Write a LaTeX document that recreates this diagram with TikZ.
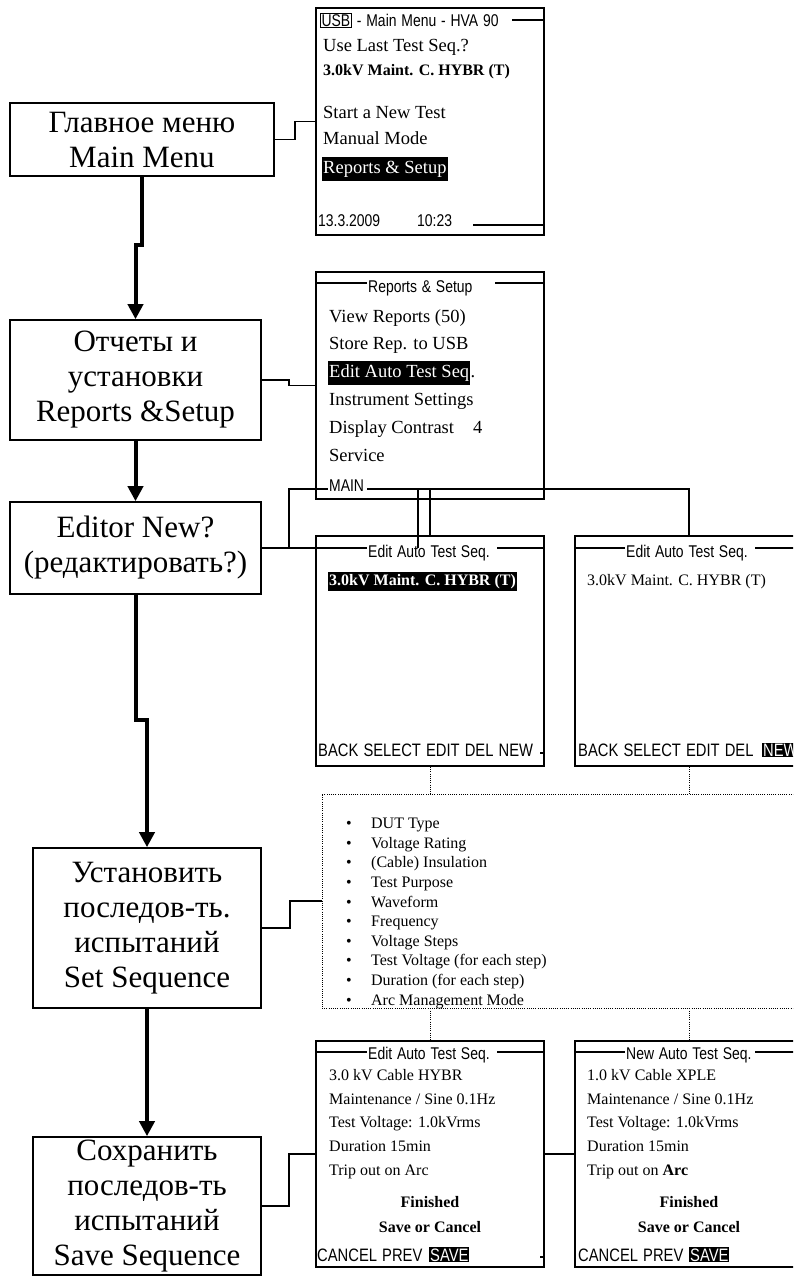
\documentclass[tikz,border=0pt]{standalone}
\usepackage{fontspec}
\setmainfont{Liberation Serif}
\newfontfamily\lcdfont[FakeStretch=0.82,WordSpace=0.7]{Liberation Sans}
\newfontfamily\lcdwide[FakeStretch=0.82,WordSpace=1.25]{Liberation Sans}
\usetikzlibrary{arrows.meta}

\begin{document}
\begin{tikzpicture}[x=1pt,y=-1pt,
  menubox/.style={draw, line width=1.6pt, align=center, inner sep=0pt, font=\fontsize{31}{35}\selectfont},
  screen/.style={draw, line width=1.8pt, inner sep=0pt, minimum width=228pt},
  flow/.style={line width=4pt, -{Triangle[width=15pt,length=15pt]}},
  wire/.style={line width=1.6pt},
  dots/.style={line width=0.8pt, dash pattern=on 1pt off 1.2pt},
  lcd/.style={inner sep=0pt, anchor=base west, font=\lcdfont\fontsize{17}{20}\selectfont},
  softkeys/.style={inner sep=0pt, anchor=base west, font=\lcdwide\fontsize{18}{20}\selectfont},
  menuitem/.style={inner sep=0pt, anchor=base west, font=\fontsize{18.5}{20}\selectfont},
  scrtext/.style={inner sep=0pt, anchor=base west, font=\fontsize{16}{20}\selectfont},
  boldtext/.style={inner sep=0pt, anchor=base, font=\bfseries\fontsize{16}{20}\selectfont},
  hl/.style={fill=black, text=white, inner xsep=1pt}]
\useasboundingbox (0,0) rectangle (793,1277);
\clip (0,0) rectangle (793,1277);

% steps on the left
\node[menubox, minimum width=264pt, minimum height=73pt] (mainmenu) at (142,139.5) {Главное меню\\Main Menu};
\node[menubox, minimum width=251pt, minimum height=120pt] (reports) at (135.5,380) {Отчеты и\\установки\\Reports \&Setup};
\node[menubox, minimum width=251pt, minimum height=92pt] (editor) at (135.5,548) {Editor New?\\(редактировать?)};
\node[menubox, minimum width=228pt, minimum height=160pt] (setseq) at (147,928) {Установить\\последов-ть.\\испытаний\\Set Sequence};
\node[menubox, minimum width=228pt, minimum height=138pt] (saveseq) at (147,1206) {Сохранить\\последов-ть\\испытаний\\Save Sequence};

\draw[flow] (mainmenu.south) -- (142,245) -- (135.5,245) -- (reports.north);
\draw[flow] (reports.south) -- (editor.north);
\draw[flow] (editor.south) -- (135.5,720) -- (147,720) -- (setseq.north);
\draw[flow] (setseq.south) -- (saveseq.north);

% screens
\node[screen, minimum height=227pt] (scrmain) at (430,121.5) {};
\node[screen, minimum height=227pt] (scrrep) at (430,385.5) {};
\node[screen, minimum height=230pt] (scredit) at (430,651) {};
\node[screen, minimum height=230pt] (scrnew) at (689,651) {};
\node[dots, draw, inner sep=0pt, minimum width=481pt, minimum height=214pt] (params) at (562.5,901) {};
\node[screen, minimum height=226pt] (scrsave) at (430,1154) {};
\node[screen, minimum height=226pt] (scrsavenew) at (689,1154) {};

% main menu screen
\node[lcd, draw, line width=1.2pt, inner sep=1pt] (usb) at (320,26) {USB};
\node[lcd] at (usb.base east) {~- Main Menu - HVA 90};
\draw[wire] (512,20) -- (544,20);
\node[menuitem] at (323,51) {Use Last Test Seq.?};
\node[scrtext, font=\bfseries\fontsize{16}{20}\selectfont] at (323,75) {3.0kV Maint. C. HYBR (T)};
\node[menuitem] at (323,118) {Start a New Test};
\node[menuitem] at (323,144) {Manual Mode};
\node[menuitem, hl, text height=13pt, text depth=4.5pt, inner ysep=3pt] at (322,173) {Reports \& Setup};
\node[lcd] at (318,226) {13.3.2009};
\node[lcd] at (417,226) {10:23};
\draw[wire] (473,225) -- (544,225);

% reports & setup screen
\draw[wire] (316,283) -- (367,283);
\node[lcd] at (368,292) {Reports \& Setup};
\draw[wire] (495,283) -- (544,283);
\node[menuitem] at (329,322) {View Reports (50)};
\node[menuitem] at (329,349) {Store Rep. to USB};
\node[menuitem, hl, text height=13pt, text depth=4.5pt, inner ysep=3pt] (editseq) at (328,377) {Edit Auto Test Seq};
\node[menuitem] at (editseq.base east) {.};
\node[menuitem] at (329,405) {Instrument Settings};
\node[menuitem] at (329,433) {Display Contrast};
\node[menuitem] at (473,433) {4};
\node[menuitem] at (329,461) {Service};
\node[lcd] (mainkey) at (329,491) {MAIN};

\draw[wire] (mainmenu.east) -- (295,139.5) |- (scrmain.west);
\draw[wire] (reports.east) -- (289,380) |- (scrrep.west);
\draw[wire] (editor.east) -- (289,548) -- (289,489) -- (328,489);
\draw[wire] (367,489) -- (689,489) -- (scrnew.north);
\draw[wire] (editor.east) -- (367,548);
\draw[wire] (418,548) -- (418,489);
\draw[wire] (430,489) -- (scredit.north);

% edit screens
\node[lcd] at (368,557) {Edit Auto Test Seq.};
\draw[wire] (497,548) -- (544,548);
\node[scrtext, hl, font=\bfseries\fontsize{16}{20}\selectfont, text height=11.5pt, text depth=3.5pt, inner ysep=2pt] at (328,585) {3.0kV Maint. C. HYBR (T)};
\node[softkeys] at (318,756) {BACK SELECT EDIT DEL NEW};
\draw[wire] (540,753) -- (544,753);

\draw[wire] (575,548) -- (625,548);
\node[lcd] at (626,557) {Edit Auto Test Seq.};
\draw[wire] (755,548) -- (803,548);
\node[scrtext] at (587,585) {3.0kV Maint. C. HYBR (T)};
\node[softkeys] at (578,756) {BACK SELECT EDIT DEL};
\node[softkeys, hl, inner ysep=1pt] at (762,756) {NEW};

% sequence parameters
\node[inner sep=0pt, anchor=north west, align=left, font=\fontsize{16}{19.6}\selectfont] (paramlist) at (346,818)
  {\makebox[25pt][l]{\textbullet}DUT Type\\
   \makebox[25pt][l]{\textbullet}Voltage Rating\\
   \makebox[25pt][l]{\textbullet}(Cable) Insulation\\
   \makebox[25pt][l]{\textbullet}Test Purpose\\
   \makebox[25pt][l]{\textbullet}Waveform\\
   \makebox[25pt][l]{\textbullet}Frequency\\
   \makebox[25pt][l]{\textbullet}Voltage Steps\\
   \makebox[25pt][l]{\textbullet}Test Voltage (for each step)\\
   \makebox[25pt][l]{\textbullet}Duration (for each step)\\
   \makebox[25pt][l]{\textbullet}Arc Management Mode};
\draw[wire] (setseq.east) -- (290,928) |- (params.west);
\draw[dots] (scredit.south) -- (scredit.south |- params.north);
\draw[dots] (scrnew.south) -- (scrnew.south |- params.north);
\draw[dots] (params.south -| scrsave.north) -- (scrsave.north);
\draw[dots] (params.south -| scrsavenew.north) -- (scrsavenew.north);

% save screens
\draw[wire] (316,1052) -- (367,1052);
\node[lcd] at (368,1059) {Edit Auto Test Seq.};
\draw[wire] (497,1052) -- (544,1052);
\node[scrtext] at (329,1080) {3.0 kV Cable HYBR};
\node[scrtext] at (329,1104) {Maintenance / Sine 0.1Hz};
\node[scrtext] at (329,1127) {Test Voltage: 1.0kVrms};
\node[scrtext] at (329,1151) {Duration 15min};
\node[scrtext] at (329,1175) {Trip out on Arc};
\node[boldtext] at (430,1207) {Finished};
\node[boldtext] at (430,1232) {Save or Cancel};
\node[softkeys] at (317,1261) {CANCEL PREV};
\node[softkeys, hl, inner ysep=1pt] at (429,1261) {SAVE};
\draw[wire] (540,1257) -- (544,1257);

\draw[wire] (575,1052) -- (625,1052);
\node[lcd] at (626,1059) {New Auto Test Seq.};
\draw[wire] (755,1052) -- (803,1052);
\node[scrtext] at (587,1080) {1.0 kV Cable XPLE};
\node[scrtext] at (587,1104) {Maintenance / Sine 0.1Hz};
\node[scrtext] at (587,1127) {Test Voltage: 1.0kVrms};
\node[scrtext] at (587,1151) {Duration 15min};
\node[scrtext] at (587,1175) {Trip out on \textbf{Arc}};
\node[boldtext] at (689,1207) {Finished};
\node[boldtext] at (689,1232) {Save or Cancel};
\node[softkeys] at (578,1261) {CANCEL PREV};
\node[softkeys, hl, inner ysep=1pt] at (689,1261) {SAVE};

\draw[wire] (saveseq.east) -- (289,1206) |- (scrsave.west);
\draw[wire] (scrsave.east) -- (scrsavenew.west);
\end{tikzpicture}
\end{document}
